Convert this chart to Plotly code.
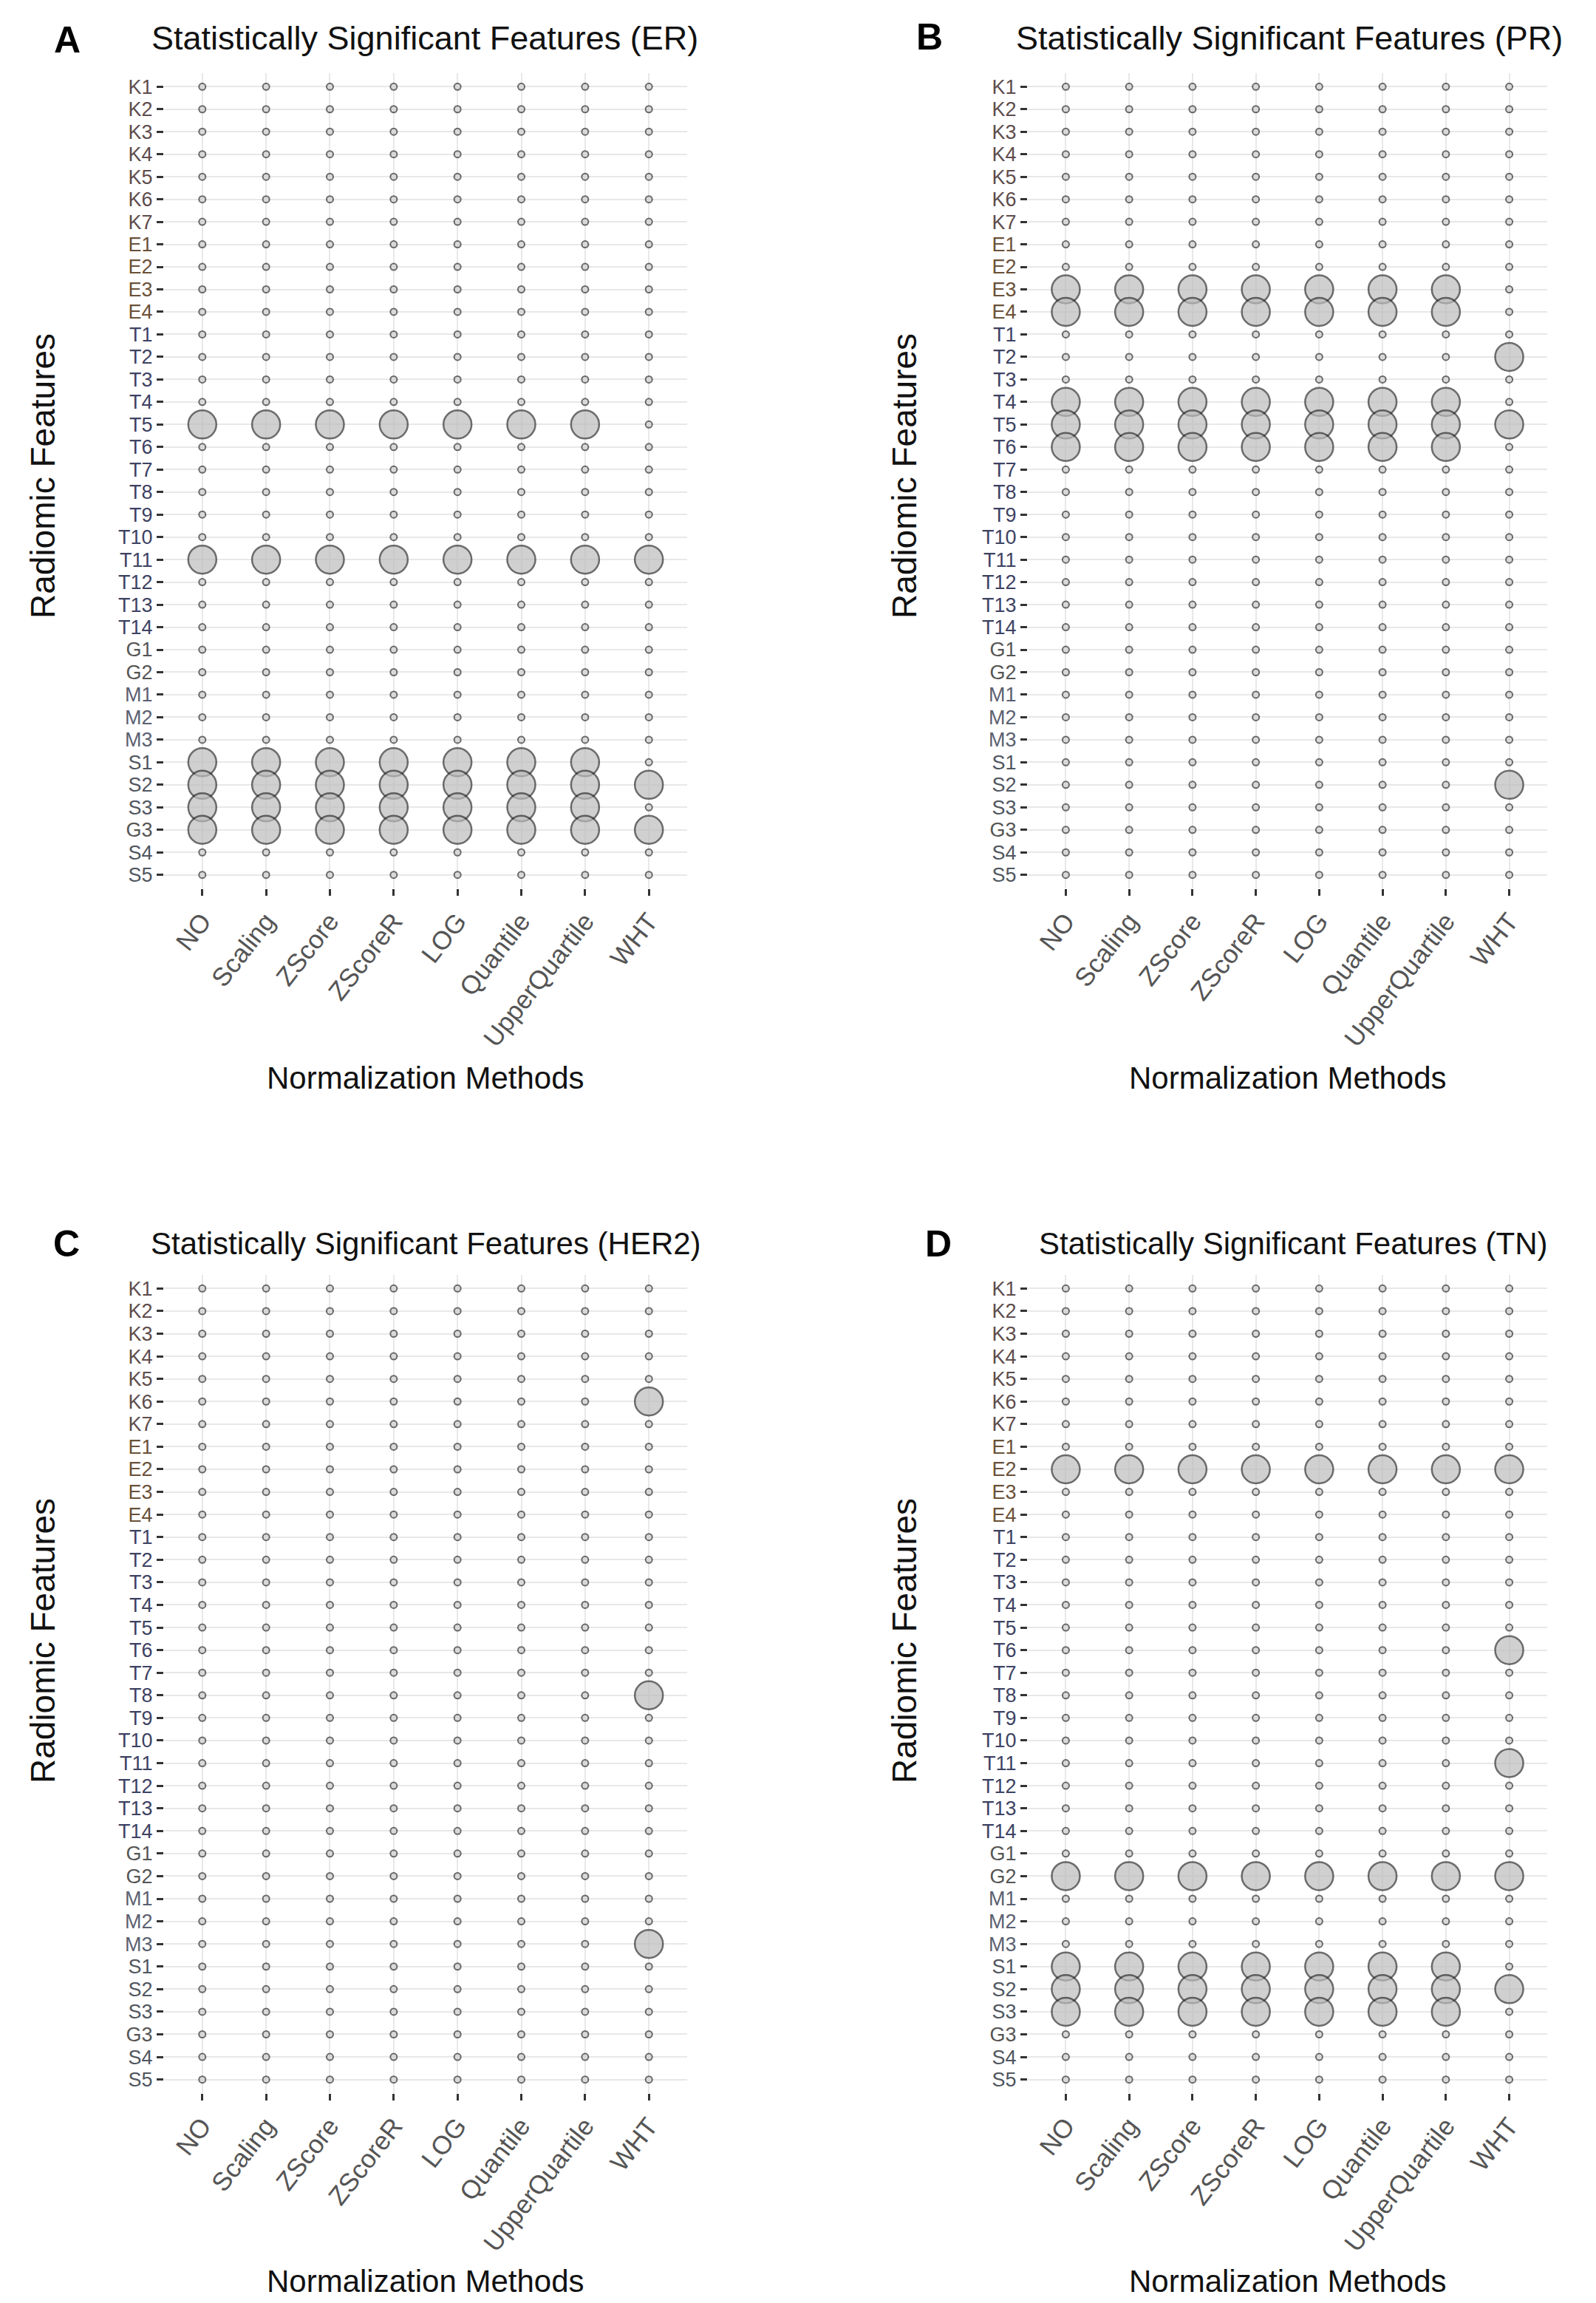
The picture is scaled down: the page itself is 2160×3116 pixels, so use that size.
import plotly.graph_objects as go

W, H = 2160, 3116

METHODS = ["NO", "Scaling", "ZScore", "ZScoreR", "LOG", "Quantile", "UpperQuartile", "WHT"]
FEATURES = ["K1", "K2", "K3", "K4", "K5", "K6", "K7",
            "E1", "E2", "E3", "E4",
            "T1", "T2", "T3", "T4", "T5", "T6", "T7", "T8", "T9", "T10", "T11", "T12", "T13", "T14",
            "G1", "G2", "M1", "M2", "M3", "S1", "S2", "S3", "G3", "S4", "S5"]
NO_WHT = ["NO", "Scaling", "ZScore", "ZScoreR", "LOG", "Quantile", "UpperQuartile"]
ALL = ["NO", "Scaling", "ZScore", "ZScoreR", "LOG", "Quantile", "UpperQuartile", "WHT"]
WHT_ONLY = ["WHT"]

# significant (feature -> methods) per receptor
ER_SIG = {"T5": NO_WHT, "T11": ALL, "S1": NO_WHT, "S2": ALL, "S3": NO_WHT, "G3": ALL}
PR_SIG = {"E3": NO_WHT, "E4": NO_WHT, "T2": WHT_ONLY, "T4": NO_WHT, "T5": ALL,
          "T6": NO_WHT, "S2": WHT_ONLY}
HER2_SIG = {"K6": WHT_ONLY, "T8": WHT_ONLY, "M3": WHT_ONLY}
TN_SIG = {"E2": ALL, "T6": WHT_ONLY, "T11": WHT_ONLY, "G2": ALL, "S1": NO_WHT,
          "S2": ALL, "S3": NO_WHT}

TITLES = ["Statistically Significant Features (ER)", "Statistically Significant Features (PR)",
          "Statistically Significant Features (HER2)", "Statistically Significant Features (TN)"]
LETTERS = ["A", "B", "C", "D"]

GROUP_COLORS = {"K": "#5e4c4c", "E": "#6a5038", "T": "#3d4262", "G": "#555555",
                "M": "#5b6070", "S": "#50565f"}

panels = [ER_SIG, PR_SIG, HER2_SIG, TN_SIG]

# pixel geometry of the 4 panels (x0, x1, y0_top, y1_bottom)
boxes = [(214, 922, 91, 1194), (1383, 2086, 91, 1194),
         (214, 922, 1717, 2824), (1383, 2086, 1717, 2824)]

fig = go.Figure()

ticktext = ['<span style="color:%s">%s</span>' % (GROUP_COLORS[f[0]], f) for f in FEATURES]

for i, sig in enumerate(panels):
    xs, ys, sizes, fills, lws = [], [], [], [], []
    for f in FEATURES:
        for m in METHODS:
            s = m in sig.get(f, [])
            xs.append(m)
            ys.append(f)
            sizes.append(38 if s else 9)
            fills.append("#bdbdbd" if s else "#d0d0d0")
            lws.append(2.5 if s else 2)
    ax = "" if i == 0 else str(i + 1)
    fig.add_trace(go.Scatter(
        x=xs, y=ys, mode="markers", xaxis="x" + ax, yaxis="y" + ax,
        marker=dict(size=sizes, color=fills, line=dict(color="#2e2e2e", width=lws)),
        showlegend=False, hoverinfo="x+y"))

    x0, x1, yt, yb = boxes[i]
    common = dict(showgrid=True, gridcolor="#e8e8e8", gridwidth=2, zeroline=False,
                  showline=False, ticks="outside", ticklen=9, tickwidth=3, tickcolor="#333333")
    fig.update_layout(**{
        "xaxis" + ax: dict(type="category", categoryarray=METHODS, categoryorder="array",
                           range=[-0.6, 7.6], domain=[x0 / W, x1 / W],
                           anchor="y" + ax, tickangle=-52,
                           tickfont=dict(family="Liberation Sans, Arial", size=35, color="#555555"),
                           **common),
        "yaxis" + ax: dict(type="category", categoryarray=FEATURES, categoryorder="array",
                           range=[35.6, -0.6], domain=[1 - yb / H, 1 - yt / H],
                           anchor="x" + ax, tickmode="array", tickvals=FEATURES, ticktext=ticktext,
                           tickfont=dict(family="Liberation Sans, Arial", size=27, color="#555555"),
                           **common),
    })

annotations = []
title_pos = [(567, 44, 45), (1737, 44, 45), (568, 1675, 42), (1742, 1675, 42)]
letter_pos = [(83, 46), (1250, 42), (82, 1675), (1262, 1675)]
xtitle_pos = [(568, 1450), (1735, 1450), (568, 3078), (1735, 3078)]
ytitle_pos = [(50, 636), (1216, 636), (50, 2212), (1216, 2212)]
for i in range(4):
    tx, ty, ts = title_pos[i]
    annotations.append(dict(text=TITLES[i], x=tx / W, y=1 - ty / H, xref="paper", yref="paper",
                            showarrow=False, xanchor="center", yanchor="middle",
                            font=dict(family="Liberation Sans, Arial", size=ts, color="#111111")))
    lx, ly = letter_pos[i]
    annotations.append(dict(text="<b>%s</b>" % LETTERS[i], x=lx / W, y=1 - ly / H, xref="paper",
                            yref="paper", showarrow=False, xanchor="center", yanchor="middle",
                            font=dict(family="Liberation Sans, Arial", size=50, color="#000000")))
    ax_, ay_ = xtitle_pos[i]
    annotations.append(dict(text="Normalization Methods", x=ax_ / W, y=1 - ay_ / H, xref="paper",
                            yref="paper", showarrow=False, xanchor="center", yanchor="middle",
                            font=dict(family="Liberation Sans, Arial", size=42, color="#111111")))
    bx, by = ytitle_pos[i]
    annotations.append(dict(text="Radiomic Features", x=bx / W, y=1 - by / H, xref="paper",
                            yref="paper", showarrow=False, xanchor="center", yanchor="middle",
                            textangle=-90,
                            font=dict(family="Liberation Sans, Arial", size=46, color="#111111")))

fig.update_layout(width=W, height=H, margin=dict(l=0, r=0, t=0, b=0),
                  paper_bgcolor="white", plot_bgcolor="white", annotations=annotations,
                  font=dict(family="Liberation Sans, Arial"))

fig.write_html("out.html")
